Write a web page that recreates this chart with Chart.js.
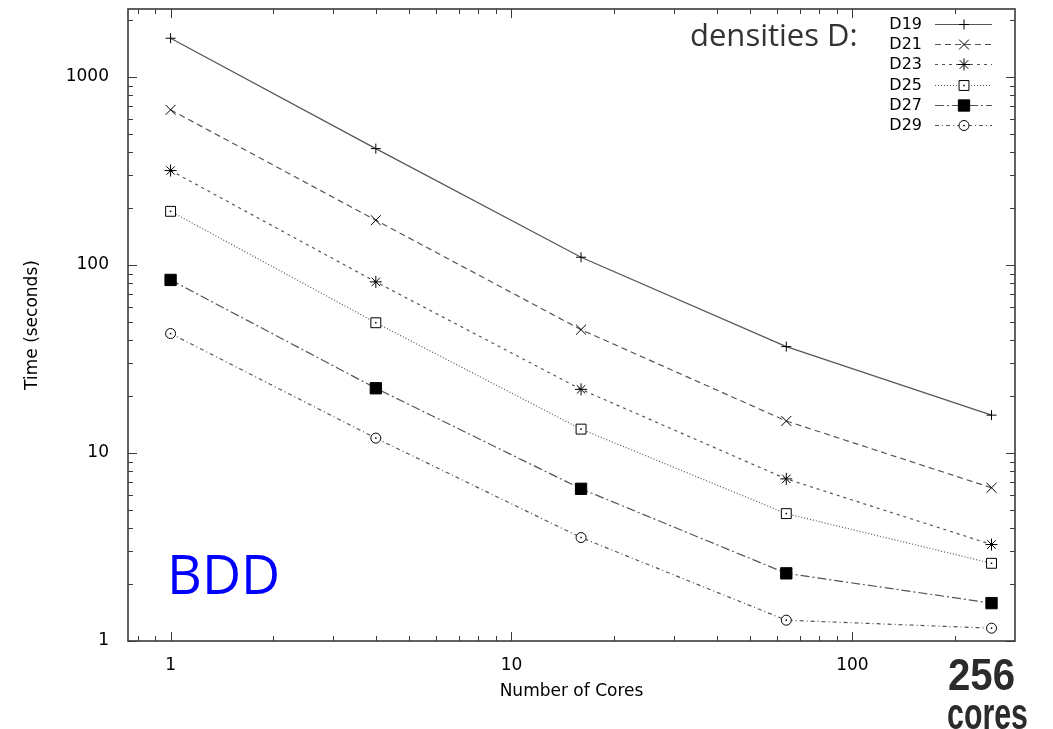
<!DOCTYPE html>
<html>
<head>
<meta charset="utf-8">
<title>BDD scaling – time vs. number of cores</title>
<script src="https://cdn.jsdelivr.net/npm/chart.js@4.4.1/dist/chart.umd.min.js"></script>
<style>
  html, body { margin: 0; padding: 0; background: #ffffff; }
  #wrap { width: 1053px; height: 729px; position: relative; }
  canvas { display: block; }
</style>
</head>
<body>
<div id="wrap"><canvas id="chart" width="1053" height="729"></canvas></div>
<script>
// Number of cores used in each run (x values, log scale)
const cores = [1, 4, 16, 64, 256];

// Run time in seconds for each density
const seriesLabels = ['D19', 'D21', 'D23', 'D25', 'D27', 'D29'];
const timeD19 = [1608, 416, 110, 36.8, 15.9];
const timeD21 = [669, 173, 45.3, 14.8, 6.53];
const timeD23 = [318, 81.3, 21.8, 7.28, 3.26];
const timeD25 = [193, 49.3, 13.4, 4.76, 2.59];
const timeD27 = [83.3, 22.1, 6.45, 2.29, 1.59];
const timeD29 = [43.2, 12.0, 3.55, 1.29, 1.17];

// Labelled (major) ticks
const xTickLabels = [1, 10, 100];
const yTickLabels = [1, 10, 100, 1000];

const seriesValues = [timeD19, timeD21, timeD23, timeD25, timeD27, timeD29];

// gnuplot-like line / point styles, one per series
const seriesStyles = [
  { dash: [],            point: 'cross',    radius: 5,   fill: '#000000', dot: false },
  { dash: [6, 4],        point: 'crossRot', radius: 7,   fill: '#000000', dot: false },
  { dash: [3, 4],        point: 'star',     radius: 6,   fill: '#000000', dot: false },
  { dash: [1, 2],        point: 'rect',     radius: 7,   fill: '#ffffff', dot: true  },
  { dash: [9, 3, 2, 3],  point: 'rect',     radius: 8,   fill: '#000000', dot: false },
  { dash: [4, 3, 1, 3],  point: 'circle',   radius: 5,   fill: '#ffffff', dot: true  }
];

const LINE_COLOR = '#555555';
const AXIS_COLOR = '#3a3a3a';
const TEXT_FONT = '"DejaVu Sans", "Liberation Sans", Arial, sans-serif';

const datasets = seriesLabels.map((label, i) => ({
  label: label,
  data: cores.map((c, j) => ({ x: c, y: seriesValues[i][j] })),
  borderColor: LINE_COLOR,
  borderWidth: 1.2,
  borderDash: seriesStyles[i].dash,
  fill: false,
  tension: 0,
  pointStyle: seriesStyles[i].point,
  pointRadius: seriesStyles[i].radius,
  pointHoverRadius: seriesStyles[i].radius,
  pointBorderColor: '#000000',
  pointBackgroundColor: seriesStyles[i].fill,
  pointBorderWidth: 1,
  centerDot: seriesStyles[i].dot
}));

// minor tick values: 2..9 within every decade touching the axis range
function minorTicks(min, max) {
  const out = [];
  for (let e = Math.floor(Math.log10(min)); e <= Math.ceil(Math.log10(max)); e++) {
    for (let m = 2; m <= 9; m++) {
      const v = m * Math.pow(10, e);
      if (v > min && v < max) out.push(v);
    }
  }
  return out;
}

// inward tick marks on all four sides plus the frame
const framePlugin = {
  id: 'frame',
  afterDatasetsDraw(chart) {
    const { ctx, chartArea: a, scales: { x, y } } = chart;
    ctx.save();
    ctx.strokeStyle = AXIS_COLOR;
    ctx.lineWidth = 1;
    const major = 9, minor = 5;
    const xMinor = minorTicks(x.min, x.max);
    const yMinor = minorTicks(y.min, y.max);
    ctx.beginPath();
    const vTick = (v, len) => {
      const px = Math.round(x.getPixelForValue(v)) + 0.5;
      ctx.moveTo(px, a.bottom); ctx.lineTo(px, a.bottom - len);
      ctx.moveTo(px, a.top);    ctx.lineTo(px, a.top + len);
    };
    const hTick = (v, len) => {
      const py = Math.round(y.getPixelForValue(v)) + 0.5;
      ctx.moveTo(a.left, py);  ctx.lineTo(a.left + len, py);
      ctx.moveTo(a.right, py); ctx.lineTo(a.right - len, py);
    };
    xTickLabels.forEach(v => vTick(v, major));
    xMinor.forEach(v => vTick(v, minor));
    yTickLabels.forEach(v => hTick(v, major));
    yMinor.forEach(v => hTick(v, minor));
    ctx.stroke();
    ctx.lineWidth = 1.6;
    ctx.strokeRect(a.left, a.top, a.right - a.left, a.bottom - a.top);
    ctx.restore();
  }
};

// small dot in the middle of the open square / circle markers
const centerDotPlugin = {
  id: 'centerDot',
  afterDatasetsDraw(chart) {
    const { ctx } = chart;
    ctx.save();
    ctx.fillStyle = '#000000';
    chart.data.datasets.forEach((ds, i) => {
      if (!ds.centerDot) return;
      chart.getDatasetMeta(i).data.forEach(pt => {
        ctx.fillRect(pt.x - 0.75, pt.y - 0.75, 1.5, 1.5);
      });
    });
    ctx.restore();
  }
};

// key in the upper right corner: label, then a line sample with its marker
const keyPlugin = {
  id: 'key',
  afterDraw(chart) {
    const { ctx } = chart;
    const textRight = 922, lineFrom = 935, lineTo = 992, markX = 964;
    const top = 24, step = 20.2;
    ctx.save();
    chart.data.datasets.forEach((ds, i) => {
      const yy = Math.round(top + i * step) + 0.5;
      ctx.font = '16px ' + TEXT_FONT;
      ctx.fillStyle = '#000000';
      ctx.textAlign = 'right';
      ctx.textBaseline = 'middle';
      ctx.fillText(ds.label, textRight, yy);
      ctx.strokeStyle = ds.borderColor;
      ctx.lineWidth = ds.borderWidth;
      ctx.setLineDash(ds.borderDash);
      ctx.beginPath();
      ctx.moveTo(lineFrom, yy); ctx.lineTo(lineTo, yy);
      ctx.stroke();
      ctx.setLineDash([]);
      ctx.strokeStyle = ds.pointBorderColor;
      ctx.fillStyle = ds.pointBackgroundColor;
      ctx.lineWidth = ds.pointBorderWidth;
      Chart.helpers.drawPoint(ctx, {
        pointStyle: ds.pointStyle, radius: ds.pointRadius, rotation: 0, borderWidth: ds.pointBorderWidth
      }, markX, yy);
      if (ds.centerDot) {
        ctx.fillStyle = '#000000';
        ctx.fillRect(markX - 0.75, yy - 0.75, 1.5, 1.5);
      }
    });
    ctx.restore();
  }
};

// draw a word squeezed horizontally to a given width (condensed bold look)
function fitText(ctx, text, x, y, width) {
  const w = ctx.measureText(text).width;
  ctx.save();
  ctx.translate(x, y);
  ctx.scale(width / w, 1);
  ctx.fillText(text, 0, 0);
  ctx.restore();
}

// slide annotations around the plot
const notesPlugin = {
  id: 'notes',
  afterDraw(chart) {
    const { ctx } = chart;
    ctx.save();
    ctx.textAlign = 'left';
    ctx.textBaseline = 'alphabetic';
    ctx.fillStyle = '#333333';
    ctx.font = '31px "Open Sans", Lato, sans-serif';
    ctx.fillText('densities D:', 690, 46);
    ctx.fillStyle = '#0000ff';
    ctx.font = '54px "Open Sans", Lato, sans-serif';
    ctx.fillText('BDD', 167, 594);
    ctx.fillStyle = '#2b2b2b';
    ctx.font = 'bold 44px "Liberation Sans", Arial, sans-serif';
    fitText(ctx, '256', 948, 690, 67);
    fitText(ctx, 'cores', 947, 729, 81);
    ctx.restore();
  }
};

new Chart(document.getElementById('chart'), {
  type: 'line',
  data: { datasets: datasets },
  options: {
    responsive: false,
    animation: false,
    devicePixelRatio: 1,
    events: [],
    layout: { padding: { left: 0, top: 6, right: 38, bottom: 0 } },
    plugins: { legend: { display: false }, tooltip: { enabled: false }, title: { display: false } },
    scales: {
      x: {
        type: 'logarithmic',
        min: 0.75,
        max: 300,
        afterBuildTicks: s => { s.ticks = xTickLabels.map(v => ({ value: v })); },
        afterFit: s => { s.height = 88; s.paddingLeft = 0; s.paddingRight = 0; },
        grid: { display: false },
        border: { display: false },
        ticks: {
          color: '#000000',
          font: { family: TEXT_FONT, size: 17 },
          padding: 6,
          maxRotation: 0,
          autoSkip: false,
          callback: v => String(v)
        },
        title: {
          display: true,
          text: 'Number of Cores',
          color: '#000000',
          font: { family: TEXT_FONT, size: 17 },
          padding: { top: 0, bottom: 27 }
        }
      },
      y: {
        type: 'logarithmic',
        min: 1,
        max: 2300,
        afterBuildTicks: s => { s.ticks = yTickLabels.map(v => ({ value: v })); },
        afterFit: s => { s.width = 128; s.paddingTop = 0; s.paddingBottom = 0; },
        grid: { display: false },
        border: { display: false },
        ticks: {
          color: '#000000',
          font: { family: TEXT_FONT, size: 17 },
          padding: 11,
          autoSkip: false,
          callback: v => String(v)
        },
        title: {
          display: true,
          text: 'Time (seconds)',
          color: '#000000',
          font: { family: TEXT_FONT, size: 17 },
          padding: { top: 22, bottom: 0 }
        }
      }
    }
  },
  plugins: [framePlugin, centerDotPlugin, keyPlugin, notesPlugin]
});
</script>
</body>
</html>
